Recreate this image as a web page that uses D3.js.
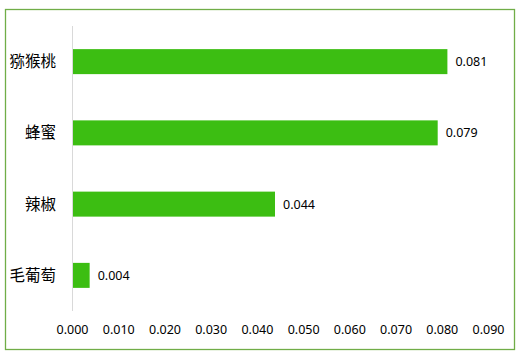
<!DOCTYPE html>
<html><head><meta charset="utf-8">
<script src="https://cdn.jsdelivr.net/npm/d3@7"></script>
<style>body{margin:0;background:#fff}svg{display:block}</style>
</head><body>
<svg id="c" width="522" height="357"></svg>
<script>
const categories = ["猕猴桃", "蜂蜜", "辣椒", "毛葡萄"];
const values = [0.081, 0.0789, 0.0437, 0.0036];
const ticks = [0, 0.01, 0.02, 0.03, 0.04, 0.05, 0.06, 0.07, 0.08, 0.09];

const svg = d3.select("#c");
const cjk = "'Noto Sans CJK SC', 'Noto Sans', sans-serif";
const num = "'Noto Sans', 'Open Sans', sans-serif";

svg.append("rect").attr("x", 5.5).attr("y", 9.5).attr("width", 509).attr("height", 340)
  .attr("fill", "#fff").attr("stroke", "#70ad47").attr("stroke-width", 1.3);

const x = d3.scaleLinear().domain([0, 0.09]).range([73, 489]);
const y = d3.scaleBand().domain(categories).range([26, 311]);
const barH = 25;

svg.append("line").attr("x1", 72.5).attr("x2", 72.5).attr("y1", 26).attr("y2", 311)
  .attr("stroke", "#d9d9d9").attr("stroke-width", 1);

svg.selectAll("rect.bar").data(values).enter().append("rect").attr("class", "bar")
  .attr("x", x(0))
  .attr("y", (d, i) => y(categories[i]) + y.bandwidth() / 2 - barH / 2)
  .attr("width", d => x(d) - x(0))
  .attr("height", barH)
  .attr("fill", "#3cbe12");

svg.selectAll("text.val").data(values).enter().append("text").attr("class", "val")
  .attr("x", d => x(d) + 8)
  .attr("y", (d, i) => y(categories[i]) + y.bandwidth() / 2)
  .attr("dy", "0.35em")
  .attr("font-family", num).attr("font-size", 12.5).attr("fill", "#000")
  .text(d => d3.format(".3f")(d));

svg.selectAll("text.cat").data(categories).enter().append("text").attr("class", "cat")
  .attr("x", 56)
  .attr("y", d => y(d) + y.bandwidth() / 2)
  .attr("dy", "0.35em")
  .attr("text-anchor", "end")
  .attr("font-family", cjk).attr("font-size", 15.5).attr("fill", "#000")
  .text(d => d);

const axis = d3.axisBottom(x).tickValues(ticks).tickSize(0).tickPadding(0).tickFormat(d3.format(".3f"));
const g = svg.append("g").attr("transform", "translate(-1,325)").call(axis);
g.select(".domain").remove();
g.selectAll("text").attr("font-family", num).attr("font-size", 12.5).attr("fill", "#000");
</script>
</body></html>
